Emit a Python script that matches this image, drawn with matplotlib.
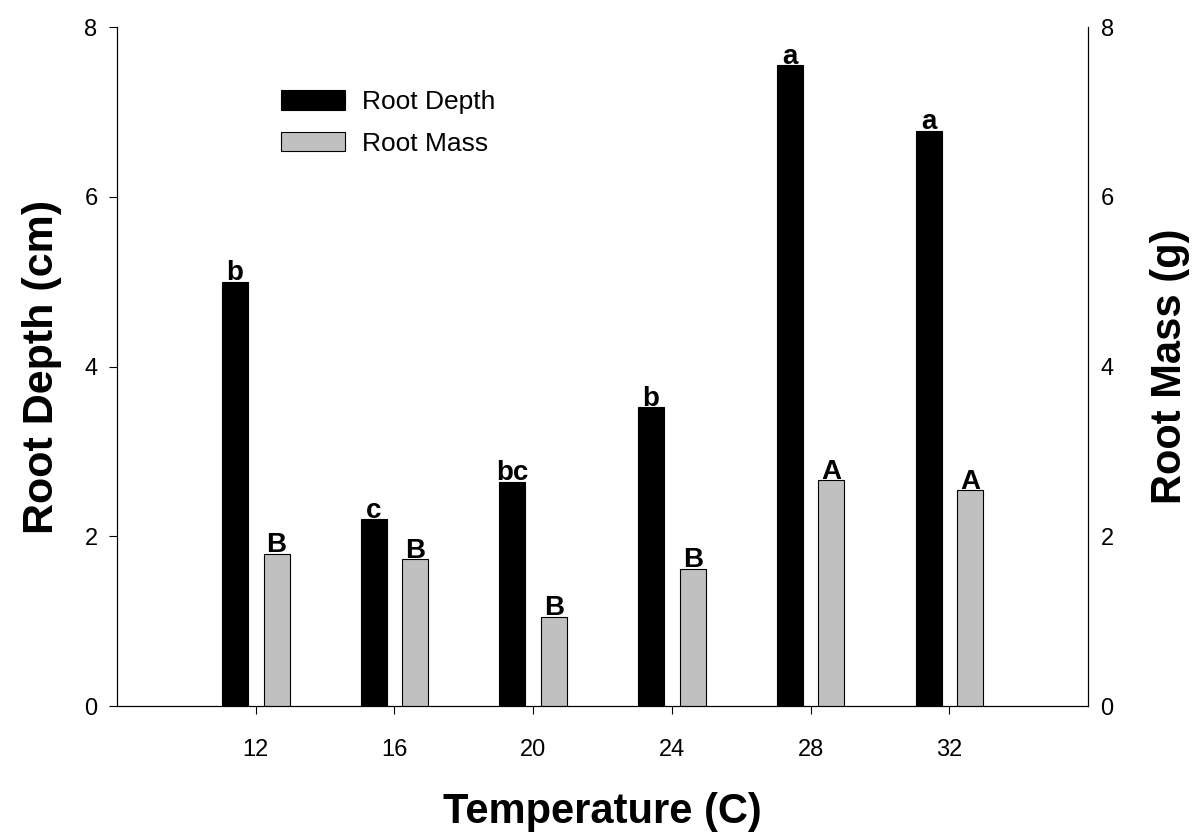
import matplotlib
matplotlib.use('Agg')
import matplotlib.pyplot as plt
import numpy as np

plt.rcParams['font.family'] = ['Liberation Sans', 'DejaVu Sans']

temps = [12, 16, 20, 24, 28, 32]
root_depth = [5.0, 2.2, 2.64, 3.52, 7.55, 6.78]   # cm
root_mass = [1.79, 1.73, 1.05, 1.62, 2.66, 2.54]  # g
depth_letters = ['b', 'c', 'bc', 'b', 'a', 'a']
mass_letters = ['B', 'B', 'B', 'B', 'A', 'A']

x = np.array(temps, dtype=float)
offset = 0.6
width = 0.75

fig = plt.figure(figsize=(11.92, 8.32), dpi=100)
ax = fig.add_axes([0.0982, 0.1514, 0.8146, 0.8161])
ax2 = ax.twinx()

b1 = ax.bar(x - offset, root_depth, width, color='black', edgecolor='black',
            linewidth=0.8, label='Root Depth')
b2 = ax2.bar(x + offset, root_mass, width, color='#c0c0c0', edgecolor='black',
             linewidth=0.8, label='Root Mass')

# significance letters sit right on top of each bar
for xi, v, s in zip(x - offset, root_depth, depth_letters):
    ax.text(xi, v + 0.02, s, ha='center', va='baseline', fontsize=20, fontweight='bold')
for xi, v, s in zip(x + offset, root_mass, mass_letters):
    ax2.text(xi, v + 0.02, s, ha='center', va='baseline', fontsize=20, fontweight='bold')

for a in (ax, ax2):
    a.set_xlim(8, 36)
    a.set_ylim(0, 8)
    a.spines['top'].set_visible(False)
    for sp in a.spines.values():
        sp.set_linewidth(0.8)

ax.set_xticks(temps)
ax.set_yticks([0, 2, 4, 6, 8])
ax2.set_yticks([0, 2, 4, 6, 8])
ax.tick_params(axis='x', direction='out', length=6, width=0.8, pad=18, labelsize=17)
ax.tick_params(axis='y', direction='out', length=6, width=0.8, pad=8, labelsize=17)
ax2.tick_params(axis='y', length=0, pad=9, labelsize=17)

ax.set_xlabel('Temperature (C)', fontsize=30, fontweight='bold')
ax.xaxis.set_label_coords(0.5, -0.127)
ax.set_ylabel('Root Depth (cm)', fontsize=31, fontweight='bold')
ax.yaxis.set_label_coords(-0.057, 0.5)
ax2.set_ylabel('Root Mass (g)', fontsize=30, fontweight='bold')
ax2.yaxis.set_label_coords(1.064, 0.5)

fig.legend(handles=[b1, b2], labels=['Root Depth', 'Root Mass'],
           loc='upper left', bbox_to_anchor=(281 / 1192, 1 - 90 / 832),
           frameon=False, fontsize=19, handlelength=2.42, handleheight=0.76,
           handletextpad=0.65, labelspacing=0.67, borderpad=0, borderaxespad=0)

fig.savefig('out.png', dpi=100)
